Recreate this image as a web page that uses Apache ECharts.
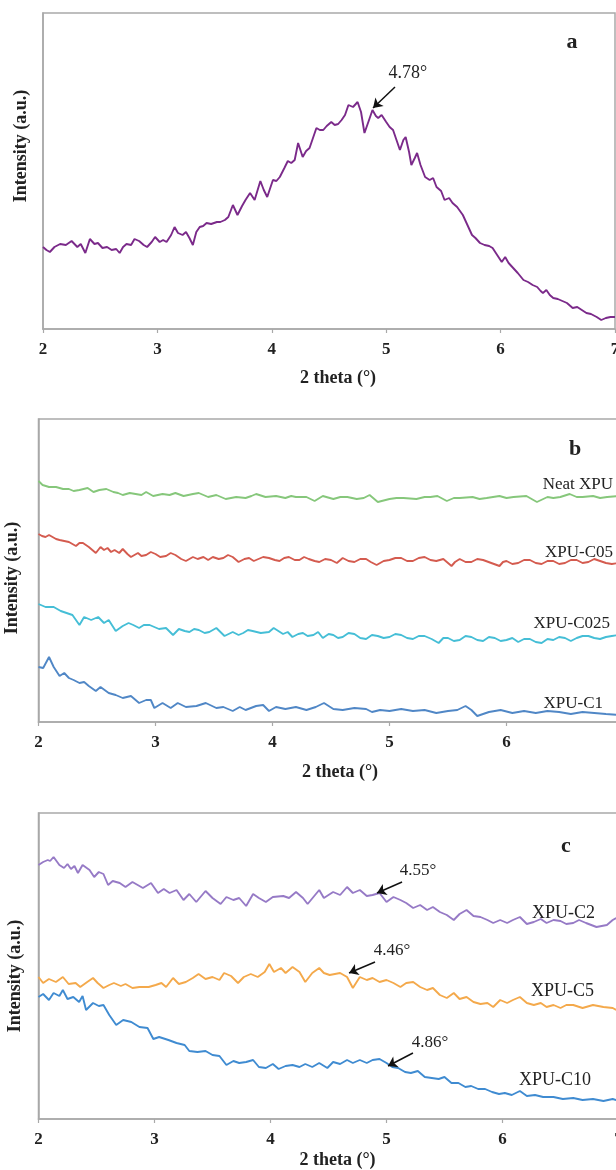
<!DOCTYPE html>
<html>
<head>
<meta charset="utf-8">
<script src="https://cdn.jsdelivr.net/npm/echarts@6/dist/echarts.min.js"></script>
<style>html,body{margin:0;padding:0;background:#fff;}#c{width:616px;height:1170px;}</style>
</head>
<body>
<div id="c"></div>
<script>
// ---------- DATA ----------
var xTicks = [2, 3, 4, 5, 6, 7];

// Panel a
var thetaA = [2.00,2.03,2.06,2.10,2.15,2.20,2.25,2.30,2.33,2.37,2.41,2.45,2.48,2.52,2.56,2.60,2.64,2.67,2.70,2.73,2.77,2.80,2.84,2.88,2.91,2.95,2.98,3.02,3.05,3.08,3.12,3.15,3.18,3.22,3.25,3.28,3.31,3.34,3.37,3.40,3.43,3.47,3.52,3.55,3.59,3.62,3.66,3.70,3.74,3.77,3.81,3.85,3.90,3.93,3.96,4.01,4.04,4.07,4.11,4.14,4.17,4.20,4.23,4.27,4.30,4.33,4.36,4.39,4.42,4.45,4.48,4.52,4.55,4.58,4.61,4.64,4.67,4.71,4.75,4.78,4.81,4.85,4.88,4.91,4.93,4.96,5.00,5.03,5.06,5.09,5.12,5.15,5.17,5.20,5.22,5.25,5.27,5.30,5.34,5.38,5.41,5.44,5.48,5.51,5.55,5.58,5.62,5.67,5.71,5.75,5.78,5.82,5.86,5.90,5.93,5.97,6.01,6.04,6.07,6.11,6.15,6.20,6.24,6.28,6.32,6.35,6.37,6.40,6.43,6.46,6.50,6.54,6.58,6.61,6.63,6.67,6.71,6.75,6.79,6.84,6.88,6.92,6.96,7.00];
var intA = [82,79,77,82,85,84,88,82,85,76,90,85,86,81,82,79,80,76,82,85,84,90,88,84,82,87,92,87,89,87,94,102,96,94,97,91,84,97,102,103,106,105,107,107,109,112,124,114,123,129,136,129,148,139,132,149,148,152,161,168,166,169,186,172,178,181,191,201,199,199,203,207,204,205,209,214,224,222,227,217,196,209,219,213,211,214,207,202,199,189,179,189,192,177,164,171,176,164,152,149,151,142,138,129,131,126,122,114,104,94,91,86,84,83,81,74,67,72,66,61,56,49,47,44,42,38,36,39,34,31,30,28,26,23,21,22,19,16,15,12,9,11,12,12];

// Panel b
var thetaNeat = [2.00,2.035,2.09,2.15,2.21,2.26,2.30,2.35,2.42,2.47,2.52,2.58,2.64,2.68,2.72,2.78,2.83,2.88,2.92,2.98,3.02,3.06,3.12,3.17,3.24,3.28,3.32,3.37,3.45,3.52,3.56,3.60,3.69,3.77,3.82,3.86,3.94,4.03,4.11,4.16,4.20,4.29,4.36,4.43,4.52,4.58,4.64,4.72,4.78,4.83,4.90,5.00,5.06,5.12,5.23,5.30,5.35,5.41,5.49,5.55,5.60,5.71,5.77,5.83,5.94,6.00,6.06,6.17,6.26,6.35,6.40,6.46,6.54,6.60,6.65,6.74,6.80,6.86,6.96];
var intNeat = [241,237,235,235,233,233,231,232,234,230,232,233,230,229,227,229,228,227,230,226,227,228,227,229,226,227,228,229,225,227,225,223,225,224,226,228,225,226,224,226,225,225,221,226,223,225,225,223,224,227,220,223,224,224,223,225,225,226,221,224,224,225,223,224,226,224,225,226,220,225,224,225,228,225,225,226,224,225,226];

var thetaC05 = [2.00,2.03,2.06,2.09,2.12,2.15,2.18,2.22,2.26,2.29,2.32,2.35,2.38,2.43,2.46,2.49,2.53,2.56,2.59,2.62,2.65,2.69,2.72,2.76,2.79,2.85,2.88,2.92,2.96,3.00,3.04,3.09,3.13,3.17,3.22,3.26,3.32,3.36,3.41,3.45,3.49,3.54,3.58,3.62,3.66,3.71,3.76,3.80,3.84,3.88,3.92,3.97,4.02,4.06,4.10,4.14,4.19,4.23,4.27,4.31,4.36,4.40,4.45,4.50,4.55,4.60,4.65,4.70,4.75,4.80,4.84,4.89,4.95,5.00,5.05,5.10,5.15,5.20,5.25,5.30,5.35,5.40,5.46,5.53,5.56,5.60,5.65,5.70,5.75,5.80,5.87,5.94,5.97,6.00,6.05,6.10,6.15,6.20,6.25,6.30,6.35,6.40,6.45,6.50,6.55,6.60,6.65,6.70,6.75,6.80,6.85,6.90,6.96];
var intC05 = [188,186,185,187,185,183,182,181,180,178,176,179,179,175,172,169,175,172,174,170,172,169,173,168,165,169,166,167,170,168,165,166,169,167,163,161,165,163,165,162,165,163,164,167,165,160,163,164,161,163,165,164,162,161,164,165,162,162,165,163,161,160,163,162,159,164,161,160,163,163,160,157,161,162,164,164,161,161,164,165,162,161,163,156,160,163,160,160,163,162,159,156,160,161,158,159,162,162,159,158,161,161,158,159,162,162,159,160,163,161,159,158,159];

var thetaC025 = [2.00,2.06,2.13,2.19,2.24,2.29,2.35,2.39,2.45,2.51,2.56,2.60,2.66,2.72,2.77,2.81,2.86,2.90,2.95,3.03,3.09,3.15,3.20,3.25,3.29,3.33,3.37,3.42,3.46,3.52,3.59,3.66,3.71,3.75,3.79,3.83,3.90,3.97,4.01,4.09,4.13,4.17,4.22,4.26,4.30,4.35,4.39,4.43,4.48,4.52,4.56,4.60,4.65,4.70,4.75,4.80,4.85,4.90,4.95,5.00,5.05,5.10,5.15,5.20,5.25,5.30,5.36,5.42,5.46,5.50,5.55,5.60,5.65,5.70,5.75,5.80,5.85,5.90,5.95,6.00,6.05,6.10,6.15,6.20,6.25,6.30,6.35,6.40,6.45,6.50,6.55,6.60,6.65,6.70,6.75,6.80,6.85,6.90,6.96];
var intC025 = [118,115,115,111,109,107,97,105,102,105,99,102,91,96,99,97,94,97,97,93,94,87,93,91,90,93,92,89,90,94,86,90,87,89,92,91,89,90,94,88,90,85,88,89,86,87,90,84,88,87,84,85,89,88,84,83,87,86,84,85,88,87,84,83,86,86,83,79,84,84,81,82,86,85,82,81,85,84,81,82,84,80,83,83,80,79,83,82,85,84,81,84,86,86,84,83,85,86,87];

var thetaC1 = [2.00,2.04,2.09,2.13,2.18,2.22,2.26,2.30,2.35,2.39,2.43,2.49,2.53,2.60,2.66,2.72,2.79,2.86,2.92,2.96,2.99,3.06,3.13,3.19,3.26,3.35,3.43,3.52,3.58,3.66,3.72,3.77,3.86,3.92,3.97,4.03,4.11,4.20,4.29,4.37,4.44,4.52,4.60,4.70,4.80,4.85,4.92,5.00,5.10,5.20,5.30,5.40,5.50,5.58,5.65,5.70,5.75,5.85,5.95,6.05,6.15,6.25,6.35,6.45,6.55,6.65,6.75,6.85,6.96];
var intC1 = [55,54,65,55,46,49,44,42,39,40,36,31,35,29,27,24,26,19,22,22,14,19,14,19,15,16,19,14,15,11,15,12,16,17,11,15,13,15,12,15,19,13,12,14,13,10,12,11,13,11,12,9,11,12,16,12,6,10,12,9,11,9,11,10,8,10,9,8,7];

// Panel c
var thetaC2 = [2.00,2.04,2.08,2.10,2.13,2.18,2.22,2.25,2.28,2.31,2.34,2.38,2.44,2.48,2.52,2.56,2.60,2.64,2.70,2.75,2.81,2.90,2.97,3.03,3.08,3.13,3.19,3.25,3.30,3.36,3.44,3.50,3.57,3.62,3.68,3.73,3.79,3.85,3.90,3.96,4.02,4.11,4.16,4.22,4.28,4.32,4.37,4.42,4.46,4.54,4.60,4.66,4.71,4.77,4.83,4.88,4.94,5.00,5.06,5.12,5.17,5.23,5.29,5.35,5.40,5.46,5.52,5.58,5.63,5.69,5.75,5.81,5.87,5.92,5.98,6.04,6.09,6.15,6.21,6.27,6.33,6.38,6.44,6.50,6.55,6.61,6.66,6.72,6.81,6.90,6.95,6.98];
var intC2 = [254,257,259,258,262,254,251,255,250,253,246,254,249,242,247,245,234,238,236,232,237,231,236,226,230,226,229,219,225,217,228,221,215,222,219,221,213,225,221,217,222,223,221,227,221,215,222,229,221,227,224,232,226,229,223,224,226,217,222,219,216,211,214,209,212,207,204,199,205,209,203,202,199,196,199,196,199,202,195,197,200,196,199,198,195,196,199,196,192,194,199,201];

var thetaC5 = [2.00,2.04,2.09,2.15,2.21,2.26,2.32,2.36,2.42,2.47,2.51,2.56,2.61,2.65,2.71,2.75,2.81,2.87,2.95,3.01,3.06,3.10,3.16,3.21,3.27,3.33,3.38,3.44,3.50,3.56,3.60,3.66,3.72,3.77,3.83,3.89,3.95,3.99,4.03,4.09,4.13,4.19,4.25,4.30,4.36,4.42,4.46,4.51,4.60,4.66,4.71,4.77,4.83,4.88,4.94,5.00,5.06,5.12,5.17,5.23,5.29,5.35,5.40,5.46,5.52,5.58,5.63,5.69,5.75,5.81,5.87,5.92,5.98,6.04,6.09,6.15,6.21,6.27,6.33,6.38,6.44,6.50,6.55,6.61,6.69,6.78,6.87,6.95,6.98];
var intC5 = [142,136,140,137,142,135,136,132,137,141,136,131,134,136,133,135,131,132,132,134,136,132,141,135,137,141,145,140,142,139,146,143,136,142,145,142,147,155,147,151,146,152,147,137,146,151,146,144,146,142,131,142,139,141,137,139,136,132,136,137,132,129,131,124,121,126,120,122,117,115,116,112,119,116,119,122,116,114,116,112,114,111,114,114,111,114,112,111,109];

var thetaC10 = [2.00,2.04,2.09,2.13,2.18,2.21,2.25,2.30,2.35,2.38,2.41,2.47,2.52,2.56,2.61,2.67,2.73,2.80,2.87,2.94,2.99,3.04,3.12,3.19,3.26,3.30,3.37,3.44,3.50,3.56,3.62,3.68,3.73,3.79,3.85,3.90,3.96,4.02,4.07,4.13,4.19,4.25,4.30,4.36,4.42,4.49,4.54,4.60,4.66,4.71,4.77,4.83,4.88,4.94,5.00,5.05,5.10,5.16,5.21,5.27,5.33,5.39,5.45,5.50,5.56,5.62,5.68,5.73,5.79,5.85,5.91,5.97,6.02,6.08,6.15,6.21,6.28,6.35,6.44,6.52,6.61,6.69,6.78,6.87,6.95,6.98];
var intC10 = [122,125,119,126,123,129,120,122,117,123,109,116,113,114,104,94,99,97,92,91,80,82,79,76,74,68,67,68,64,63,54,58,56,57,59,52,51,55,50,53,54,52,55,52,56,51,57,55,59,56,59,56,59,60,56,52,51,47,46,48,42,41,40,42,36,36,32,33,30,30,27,25,26,24,28,23,24,22,22,20,21,19,20,18,20,19];

// Annotations: [fromTheta, fromInt, toTheta, toInt]
var arrowsA = [[5.077, 242, 4.885, 221]];
var notesA = [[5.19, 256, '4.78°']];
var arrowsC = [[5.134, 237, 4.918, 226], [4.901, 157, 4.677, 146], [5.228, 66, 5.013, 53]];
var notesC = [[5.272, 248, '4.55°'], [5.047, 168, '4.46°'], [5.375, 76, '4.86°']];

var namesB = ['Neat XPU', 'XPU-C05', 'XPU-C025', 'XPU-C1'];
var namesC = ['XPU-C2', 'XPU-C5', 'XPU-C10'];

// ---------- CHART ----------
var serif = '"Liberation Serif", "Times New Roman", serif';
var frame = '#a9a9a9';
function pairs(t, v) { return t.map(function (x, i) { return [x, v[i]]; }); }

var grids = [
  {left: 43, top: 13, width: 572, height: 316},
  {left: 38.5, top: 419, width: 585, height: 303},
  {left: 38.5, top: 813, width: 580, height: 306}
].map(function (g) { return Object.assign({show: true, borderColor: frame, borderWidth: 1.5, backgroundColor: 'transparent', containLabel: false, outerBoundsMode: 'none'}, g); });

var yMax = [316, 303, 306];
var nameGaps = [40, 41, 32];

var xAxes = [0, 1, 2].map(function (i) {
  return {
    type: 'value', gridIndex: i, min: xTicks[0], max: xTicks[xTicks.length - 1], interval: 1,
    axisLine: {show: true, lineStyle: {color: frame, width: 1.5}},
    axisTick: {show: true, length: 4, lineStyle: {color: frame, width: 1.2}},
    splitLine: {show: false},
    axisLabel: {color: '#222', fontFamily: serif, fontWeight: 'bold', fontSize: 17, margin: 12, hideOverlap: false},
    name: '2 theta (°)', nameLocation: 'middle', nameGap: nameGaps[i],
    nameTextStyle: {color: '#222', fontFamily: serif, fontWeight: 'bold', fontSize: 18, padding: [0, 0, 0, 18]}
  };
});
var yAxes = [0, 1, 2].map(function (i) {
  return {
    type: 'value', gridIndex: i, min: 0, max: yMax[i],
    axisLine: {show: true, lineStyle: {color: frame, width: 1.5}},
    axisTick: {show: false}, axisLabel: {show: false}, splitLine: {show: false}
  };
});

function arrowLines(list) {
  return list.map(function (a) {
    return [{coord: [a[0], a[1]], symbol: 'none'}, {coord: [a[2], a[3]], symbol: 'arrow', symbolSize: 9}];
  });
}
function notePoints(list, size) {
  return list.map(function (n) {
    return {coord: [n[0], n[1]], symbol: 'circle', symbolSize: 1, itemStyle: {color: 'rgba(0,0,0,0)'},
      label: {show: true, position: 'inside', formatter: n[2], color: '#222', fontFamily: serif, fontSize: size}};
  });
}
function lineSeries(name, xi, data, color, extra) {
  return Object.assign({
    name: name, type: 'line', xAxisIndex: xi, yAxisIndex: xi, data: data, showSymbol: false,
    lineStyle: {color: color, width: 1.9}, itemStyle: {color: color}, silent: true, z: 3
  }, extra || {});
}
var markCommon = function (arrows, notes, size) {
  return {
    markLine: {silent: true, symbol: ['none', 'arrow'], symbolSize: 9, label: {show: false},
      lineStyle: {color: '#111', width: 1.5, type: 'solid'}, data: arrowLines(arrows), animation: false},
    markPoint: {silent: true, data: notePoints(notes, size), animation: false}
  };
};

var series = [
  lineSeries('a', 0, pairs(thetaA, intA), '#7b2a8a', markCommon(arrowsA, notesA, 18)),
  lineSeries(namesB[0], 1, pairs(thetaNeat, intNeat), '#86c77b'),
  lineSeries(namesB[1], 1, pairs(thetaC05, intC05), '#d45b4f'),
  lineSeries(namesB[2], 1, pairs(thetaC025, intC025), '#45bed6'),
  lineSeries(namesB[3], 1, pairs(thetaC1, intC1), '#5087c6'),
  lineSeries(namesC[0], 2, pairs(thetaC2, intC2), '#967ac6', markCommon(arrowsC.slice(0, 1), notesC.slice(0, 1), 17)),
  lineSeries(namesC[1], 2, pairs(thetaC5, intC5), '#f4a94b', markCommon(arrowsC.slice(1, 2), notesC.slice(1, 2), 17)),
  lineSeries(namesC[2], 2, pairs(thetaC10, intC10), '#3f8bd1', markCommon(arrowsC.slice(2, 3), notesC.slice(2, 3), 17))
];

function txt(x, y, s, opts) {
  return {type: 'text', x: x, y: y, rotation: opts.rot || 0, silent: true, z: 10,
    style: Object.assign({text: s, fill: '#222', font: opts.font, align: opts.align || 'center', verticalAlign: 'middle',
      textAlign: opts.align || 'center', textVerticalAlign: 'middle'})};
}
var yTitleFont = 'bold 18px ' + serif;
var labelFontB = '17px ' + serif;
var labelFontC = '18px ' + serif;
var graphics = [
  txt(21, 146, 'Intensity (a.u.)', {font: yTitleFont, rot: Math.PI / 2}),
  txt(12, 578, 'Intensity (a.u.)', {font: yTitleFont, rot: Math.PI / 2}),
  txt(15, 976, 'Intensity (a.u.)', {font: yTitleFont, rot: Math.PI / 2}),
  txt(572, 42, 'a', {font: 'bold 22px ' + serif}),
  txt(575, 449, 'b', {font: 'bold 22px ' + serif}),
  txt(566, 846, 'c', {font: 'bold 22px ' + serif}),
  txt(613, 485, namesB[0], {font: labelFontB, align: 'right'}),
  txt(613, 553, namesB[1], {font: labelFontB, align: 'right'}),
  txt(610, 624, namesB[2], {font: labelFontB, align: 'right'}),
  txt(603, 704, namesB[3], {font: labelFontB, align: 'right'}),
  txt(595, 913, namesC[0], {font: labelFontC, align: 'right'}),
  txt(594, 991, namesC[1], {font: labelFontC, align: 'right'}),
  txt(591, 1080, namesC[2], {font: labelFontC, align: 'right'})
];

var chart = echarts.init(document.getElementById('c'), null, {renderer: 'canvas'});
chart.setOption({
  animation: false,
  backgroundColor: '#fff',
  grid: grids,
  xAxis: xAxes,
  yAxis: yAxes,
  series: series,
  graphic: graphics
});
</script>
</body>
</html>
